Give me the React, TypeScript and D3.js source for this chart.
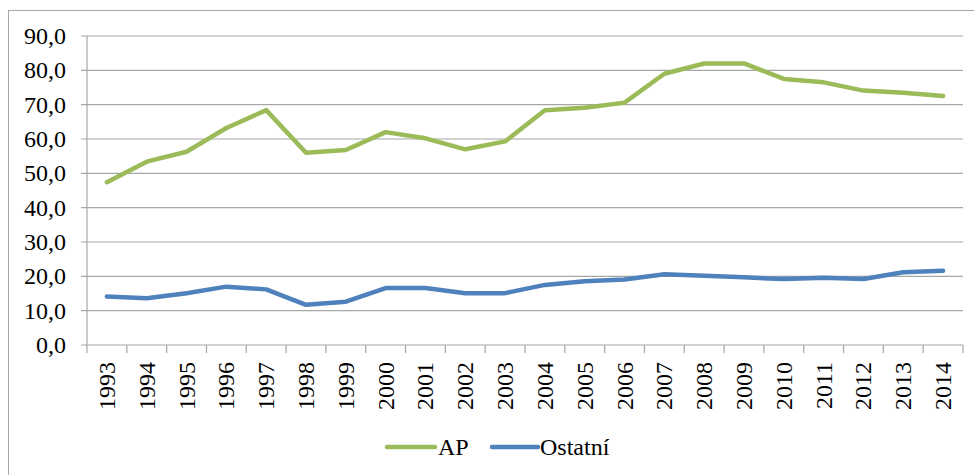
import * as d3 from "d3";

const years = [
  "1993", "1994", "1995", "1996", "1997", "1998", "1999", "2000", "2001", "2002", "2003",
  "2004", "2005", "2006", "2007", "2008", "2009", "2010", "2011", "2012", "2013", "2014",
];
const apValues = [
  47.4, 53.4, 56.3, 63.2, 68.4, 56.0, 56.8, 62.0, 60.2, 57.0, 59.3,
  68.4, 69.1, 70.6, 79.0, 82.0, 82.0, 77.5, 76.5, 74.1, 73.5, 72.5,
];
const ostatniValues = [
  14.1, 13.6, 15.1, 17.0, 16.2, 11.7, 12.6, 16.6, 16.6, 15.1, 15.1,
  17.5, 18.6, 19.1, 20.6, 20.2, 19.7, 19.2, 19.6, 19.2, 21.2, 21.6,
];
const yTicks = [0, 10, 20, 30, 40, 50, 60, 70, 80, 90];

const series = [
  { name: "AP", values: apValues, color: "#9bbb59" },
  { name: "Ostatní", values: ostatniValues, color: "#4f81bd" },
];

const width = 974,
  height = 475;
const PLOT = { left: 87, right: 963, top: 36, bottom: 345 };
const textStyle = {
  fontFamily: '"Times New Roman", "Liberation Serif", Tinos, serif',
  fontSize: "24px",
};
const GRID = "#a6a6a6";

const App = () => {
  const xScale = d3.scaleBand().domain(years).range([PLOT.left, PLOT.right]);
  const yScale = d3.scaleLinear().domain([0, 90]).range([PLOT.bottom, PLOT.top]);
  const cx = (y: string) => (xScale(y) as number) + xScale.bandwidth() / 2;

  const line = d3
    .line<number>()
    .x((_, i) => cx(years[i]))
    .y((d) => yScale(d));

  // legend positions
  const legend = [
    { x1: 387, x2: 435, tx: 438 },
    { x1: 492, x2: 538, tx: 540 },
  ];

  return (
    <svg
      width={width}
      height={height}
      style={{ position: "absolute", left: 0, top: 0, display: "block", ...textStyle }}
    >
      <rect x={8.5} y={10.5} width={width} height={height} fill="white" stroke={GRID} strokeWidth={1} />

      {/* horizontal grid + y labels */}
      {yTicks.map((t) => (
        <g key={t}>
          <line
            x1={PLOT.left - 6}
            x2={PLOT.right}
            y1={yScale(t)}
            y2={yScale(t)}
            stroke={GRID}
            strokeWidth={1.2}
          />
          <text x={66} y={yScale(t) + 8} textAnchor="end" style={textStyle} fill="#000">
            {d3.format(".1f")(t).replace(".", ",")}
          </text>
        </g>
      ))}

      {/* y axis */}
      <line x1={PLOT.left} x2={PLOT.left} y1={PLOT.top} y2={PLOT.bottom + 8} stroke={GRID} strokeWidth={1.2} />

      {/* category ticks */}
      {years.map((y) => (
        <line
          key={"t" + y}
          x1={(xScale(y) as number) + xScale.bandwidth()}
          x2={(xScale(y) as number) + xScale.bandwidth()}
          y1={PLOT.bottom}
          y2={PLOT.bottom + 8}
          stroke={GRID}
          strokeWidth={1.2}
        />
      ))}

      {/* year labels */}
      {years.map((y) => (
        <text
          key={"l" + y}
          transform={`translate(${cx(y) + 8},362) rotate(-90)`}
          textAnchor="end"
          style={textStyle}
          fill="#000"
        >
          {y}
        </text>
      ))}

      {/* lines */}
      {series.map((s) => (
        <path
          key={s.name}
          d={line(s.values) || ""}
          fill="none"
          stroke={s.color}
          strokeWidth={4.5}
          strokeLinejoin="round"
          strokeLinecap="round"
        />
      ))}

      {/* legend */}
      {series.map((s, i) => (
        <g key={"lg" + s.name}>
          <line
            x1={legend[i].x1}
            x2={legend[i].x2}
            y1={447}
            y2={447}
            stroke={s.color}
            strokeWidth={4.5}
            strokeLinecap="round"
          />
          <text x={legend[i].tx} y={455} style={textStyle} fill="#000">
            {s.name}
          </text>
        </g>
      ))}
    </svg>
  );
};

export default App;
